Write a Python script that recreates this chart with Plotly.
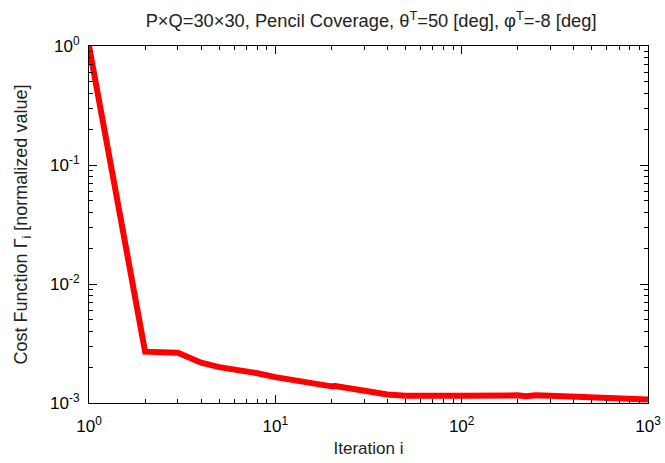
import numpy as np
import plotly.graph_objects as go

iterations = [1, 2, 3, 4, 5, 6, 7, 8, 10, 12, 15, 20, 21, 25, 30, 40, 50, 60, 80, 100,
              150, 180, 200, 220, 250, 300, 500, 700, 1000]
cost = [1.0, 0.0027, 0.00265, 0.00218, 0.00200, 0.00192, 0.00185, 0.00178, 0.00165,
        0.00157, 0.00147, 0.00138, 0.00139, 0.00132, 0.00125, 0.00118, 0.00115, 0.00116,
        0.00115, 0.00115, 0.00116, 0.00119, 0.00116, 0.00114, 0.00116, 0.00115, 0.00112,
        0.00110, 0.00107]

x_major = [1, 10, 100, 1000]
x_labels = ["10<sup>0</sup>", "10<sup>1</sup>", "10<sup>2</sup>", "10<sup>3</sup>"]
y_major = [0.001, 0.01, 0.1, 1]
y_labels = ["10<sup>-3</sup>", "10<sup>-2</sup>", "10<sup>-1</sup>", "10<sup>0</sup>"]

x_minor = [m * 10 ** d for d in range(0, 3) for m in range(2, 10)]
y_minor = [m * 10.0 ** d for d in range(-3, 0) for m in range(2, 10)]

font = "Liberation Sans, Arial, Helvetica, sans-serif"

fig = go.Figure()
fig.add_trace(go.Scatter(x=iterations, y=cost, mode="lines",
                         line=dict(color="#ff0000", width=6), showlegend=False))

axis_common = dict(
    type="log", showline=True, linecolor="black", linewidth=1, mirror="ticks",
    ticks="inside", ticklen=8, tickcolor="black", showgrid=False, zeroline=False,
    tickfont=dict(family=font, size=17, color="black"), automargin=False,
)

fig.update_xaxes(
    **axis_common,
    range=[0, 3], tickvals=x_major, ticktext=x_labels, ticklabelstandoff=8,
    minor=dict(ticks="inside", ticklen=4, tickcolor="black", tickvals=x_minor, showgrid=False),
    title=dict(text="Iteration i", font=dict(family=font, size=17, color="#222"), standoff=6),
)
fig.update_yaxes(
    **axis_common,
    range=[-3, 0], tickvals=y_major, ticktext=y_labels, ticklabelstandoff=5,
    minor=dict(ticks="inside", ticklen=4, tickcolor="black", tickvals=y_minor, showgrid=False),
    title=dict(text="Cost Function Γ<sub>i</sub> [normalized value]",
               font=dict(family=font, size=18, color="#222"), standoff=17),
)

fig.update_layout(
    width=665, height=463,
    margin=dict(l=89, r=17, t=46, b=60),
    paper_bgcolor="white", plot_bgcolor="white",
    title=dict(text="P×Q=30×30, Pencil Coverage, θ<sup>T</sup>=50 [deg], φ<sup>T</sup>=-8 [deg]",
               x=0.558, xanchor="center", y=0.955, yanchor="middle",
               font=dict(family=font, size=18.3, color="#222")),
)

fig.write_html("out.html")
